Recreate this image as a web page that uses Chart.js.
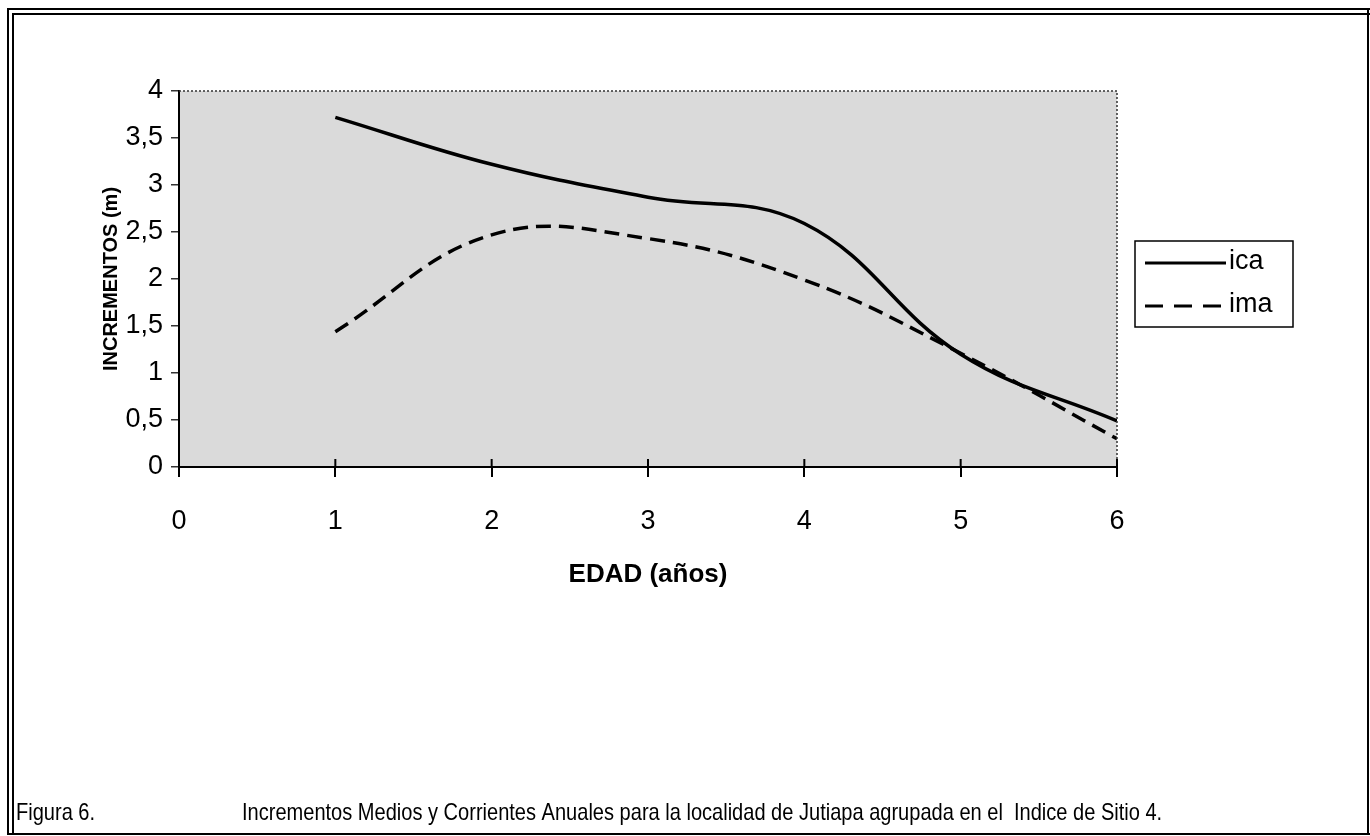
<!DOCTYPE html>
<html>
<head>
<meta charset="utf-8">
<script src="https://cdn.jsdelivr.net/npm/chart.js@4.4.1/dist/chart.umd.min.js"></script>
<style>
  html, body { margin: 0; padding: 0; background: #fff; }
  #chart { display: block; }
</style>
</head>
<body>
<canvas id="chart" width="1370" height="836"></canvas>
<script>
// data
const edades = [1, 2, 3, 4, 5, 6];
const icaValues = [3.72, 3.22, 2.87, 2.59, 1.2, 0.49];
const imaValues = [1.44, 2.47, 2.43, 1.99, 1.21, 0.3];
const seriesNames = ['ica', 'ima'];
const yTickLabels = ['0', '0,5', '1', '1,5', '2', '2,5', '3', '3,5', '4'];
const xTickLabels = ['0', '1', '2', '3', '4', '5', '6'];
const caption = ['Figura 6.', 'Incrementos Medios y Corrientes Anuales para la localidad de Jutiapa agrupada en el  Indice de Sitio 4.'];

const FONT = "'Liberation Sans', Arial, sans-serif";

const toPoints = vals => vals.map((v, i) => ({ x: edades[i], y: v }));

// gray plot background, dotted top/right edge, ticks crossing the x axis
const plotBg = {
  id: 'plotBg',
  beforeDraw(chart) {
    const { ctx, chartArea: a } = chart;
    ctx.save();
    ctx.fillStyle = '#dadada';
    ctx.fillRect(a.left, a.top, a.right - a.left, a.bottom - a.top);
    ctx.restore();
  },
  afterDatasetsDraw(chart) {
    const { ctx, chartArea: a, scales } = chart;
    ctx.save();
    ctx.strokeStyle = '#333';
    ctx.lineWidth = 1.5;
    ctx.setLineDash([2, 2]);
    ctx.beginPath();
    ctx.moveTo(a.left, a.top);
    ctx.lineTo(a.right, a.top);
    ctx.lineTo(a.right, a.bottom);
    ctx.stroke();
    ctx.setLineDash([]);
    ctx.strokeStyle = '#000';
    ctx.lineWidth = 2;
    ctx.beginPath();
    scales.x.ticks.forEach(t => {
      const px = scales.x.getPixelForValue(t.value);
      ctx.moveTo(px, a.bottom);
      ctx.lineTo(px, a.bottom - 8);
    });
    ctx.stroke();
    ctx.restore();
  }
};

// boxed legend on the right
const boxLegend = {
  id: 'boxLegend',
  afterDraw(chart) {
    const { ctx } = chart;
    const box = { x: 1135, y: 241, w: 158, h: 86 };
    ctx.save();
    ctx.strokeStyle = '#000';
    ctx.lineWidth = 1.5;
    ctx.strokeRect(box.x, box.y, box.w, box.h);
    ctx.font = '27px ' + FONT;
    ctx.fillStyle = '#000';
    ctx.textBaseline = 'middle';
    chart.data.datasets.forEach((ds, i) => {
      const y = box.y + 21 + i * 43;
      ctx.lineWidth = 3;
      ctx.setLineDash(ds.borderDash ? [18, 11] : []);
      ctx.beginPath();
      ctx.moveTo(box.x + 10, y + 1);
      ctx.lineTo(box.x + (ds.borderDash ? 86 : 91), y + 1);
      ctx.stroke();
      ctx.setLineDash([]);
      ctx.fillText(ds.label, box.x + 94, y);
    });
    ctx.restore();
  }
};

// page frame and caption
const pageFrame = {
  id: 'pageFrame',
  afterDraw(chart) {
    const { ctx } = chart;
    ctx.save();
    ctx.strokeStyle = '#000';
    ctx.lineWidth = 2;
    ctx.beginPath();
    ctx.moveTo(8, 835); ctx.lineTo(8, 9); ctx.lineTo(1370, 9);
    ctx.moveTo(13, 835); ctx.lineTo(13, 14); ctx.lineTo(1370, 14);
    ctx.moveTo(8, 834); ctx.lineTo(1370, 834);
    ctx.moveTo(1368, 9); ctx.lineTo(1368, 835);
    ctx.stroke();
    ctx.fillStyle = '#000';
    ctx.font = '24px ' + FONT;
    ctx.textBaseline = 'alphabetic';
    // the caption is set in a condensed face: squeeze it horizontally
    ctx.translate(16, 820);
    ctx.scale(0.835, 1);
    ctx.fillText(caption[0], 0, 0);
    ctx.fillText(caption[1], (242 - 16) / 0.835, 0);
    ctx.restore();
  }
};

new Chart(document.getElementById('chart'), {
  type: 'line',
  data: {
    datasets: [
      {
        label: seriesNames[0],
        data: toPoints(icaValues),
        borderColor: '#000',
        borderWidth: 3.5,
        pointRadius: 0,
        tension: 0.4,
        fill: false
      },
      {
        label: seriesNames[1],
        data: toPoints(imaValues),
        borderColor: '#000',
        borderWidth: 3.5,
        borderDash: [15, 8],
        pointRadius: 0,
        tension: 0.4,
        fill: false
      }
    ]
  },
  options: {
    responsive: false,
    animation: false,
    layout: { padding: { left: 99, top: 91, right: 253, bottom: 246 } },
    plugins: { legend: { display: false }, tooltip: { enabled: false } },
    scales: {
      x: {
        type: 'linear',
        min: 0,
        max: 6,
        afterFit: s => { s.height = 123; },
        ticks: {
          stepSize: 1,
          color: '#000',
          padding: 28,
          font: { family: FONT, size: 27 },
          callback: (v, i) => xTickLabels[i]
        },
        grid: { drawOnChartArea: false, color: '#000', tickLength: 10, lineWidth: 2 },
        border: { color: '#000', width: 2 },
        title: {
          display: true,
          text: 'EDAD (años)',
          color: '#000',
          padding: 0,
          font: { family: FONT, size: 26, weight: 'bold' }
        }
      },
      y: {
        min: 0,
        max: 4,
        afterFit: s => { s.width = 80; },
        ticks: {
          stepSize: 0.5,
          color: '#000',
          padding: 8,
          font: { family: FONT, size: 27 },
          callback: (v, i) => yTickLabels[i]
        },
        grid: { drawOnChartArea: false, color: '#333', tickLength: 8, lineWidth: 1.5 },
        border: { color: '#000', width: 2 },
        title: {
          display: true,
          text: 'INCREMENTOS (m)',
          color: '#000',
          padding: 0,
          font: { family: FONT, size: 20, weight: 'bold' }
        }
      }
    }
  },
  plugins: [plotBg, boxLegend, pageFrame]
});
</script>
</body>
</html>
